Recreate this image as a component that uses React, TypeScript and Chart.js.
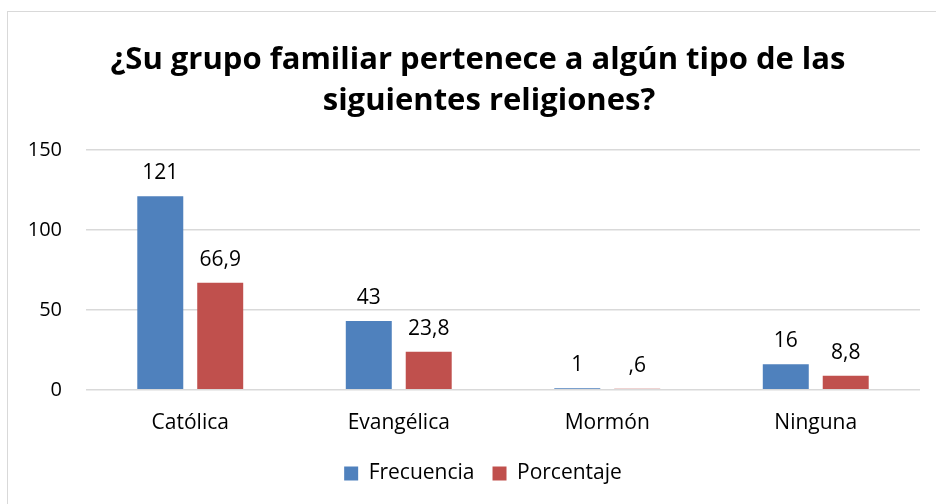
import React, { useEffect, useRef } from "react";
import { Chart, registerables } from "chart.js";

Chart.register(...registerables);

const categories = ["Católica", "Evangélica", "Mormón", "Ninguna"];
const frecuencia = [121, 43, 1, 16];
const porcentaje = [66.9, 23.8, 0.6, 8.8];
const frecuenciaLabels = ["121", "43", "1", "16"];
const porcentajeLabels = ["66,9", "23,8", ",6", "8,8"];
const titleLines = ["¿Su grupo familiar pertenece a algún tipo de las", "siguientes religiones?"];
const yTicks = [0, 50, 100, 150];

const FONT = "'Open Sans', sans-serif";

const dataLabelPlugin = {
  id: "dataLabels",
  afterDatasetsDraw(chart: any) {
    const ctx = chart.ctx;
    const all = [frecuenciaLabels, porcentajeLabels];
    ctx.save();
    ctx.font = `21px ${FONT}`;
    ctx.fillStyle = "#000";
    ctx.textAlign = "center";
    ctx.textBaseline = "alphabetic";
    chart.data.datasets.forEach((_: any, di: number) => {
      const meta = chart.getDatasetMeta(di);
      meta.data.forEach((bar: any, i: number) => {
        ctx.fillText(all[di][i], bar.x, bar.y - 17);
      });
    });
    ctx.restore();
  },
};

const titlePlugin = {
  id: "wideTitle",
  afterLayout(chart: any) {
    if (chart.legend) {
      chart.legend.left += 23;
      chart.legend.right += 23;
      chart.legend.top -= 4;
      chart.legend.bottom -= 4;
    }
  },
  afterDraw(chart: any) {
    const ctx = chart.ctx;
    ctx.save();
    ctx.font = `bold 31px ${FONT}`;
    ctx.fillStyle = "#000";
    ctx.textAlign = "center";
    ctx.textBaseline = "alphabetic";
    const centers = [478, 489];
    const baselines = [69, 110];
    titleLines.forEach((line, i) => ctx.fillText(line, centers[i], baselines[i]));
    ctx.restore();
  },
};

export default function App() {
  const ref = useRef<HTMLCanvasElement>(null);
  useEffect(() => {
    document.body.style.margin = "0";
    const chart = new Chart(ref.current!, {
      type: "bar",
      data: {
        labels: categories,
        datasets: [
          { label: "Frecuencia", data: frecuencia, backgroundColor: "#4F81BD" },
          { label: "Porcentaje", data: porcentaje, backgroundColor: "#C0504D" },
        ],
      },
      options: {
        animation: false,
        responsive: false,
        layout: { padding: { left: 0, right: 16, top: 150, bottom: 6 } },
        datasets: {
          bar: { categoryPercentage: 0.575, barPercentage: 0.767 },
        } as any,
        plugins: {
          title: { display: false },
          legend: {
            position: "bottom",
            labels: {
              color: "#000",
              font: { family: FONT, size: 21 },
              boxWidth: 14,
              boxHeight: 14,
              padding: 18,
            },
          },
          tooltip: { enabled: false },
        },
        scales: {
          x: {
            grid: { display: false },
            border: { display: false },
            ticks: { color: "#000", font: { family: FONT, size: 21 }, padding: 13 },
          },
          y: {
            min: 0,
            max: 150,
            afterBuildTicks: (axis: any) => {
              axis.ticks = yTicks.map((v) => ({ value: v }));
            },
            afterFit: (axis: any) => {
              axis.width = 86;
            },
            grid: { color: "#D9D9D9", lineWidth: 1.5, drawTicks: false },
            border: { display: false },
            ticks: { color: "#000", font: { family: FONT, size: 20 }, padding: 24 },
          },
        },
      },
      plugins: [dataLabelPlugin, titlePlugin],
    });
    return () => chart.destroy();
  }, []);
  return (
    <div style={{ position: "relative", width: 936, height: 504, overflow: "hidden", background: "#fff" }}>
      <div
        style={{
          position: "absolute",
          left: 7,
          top: 11,
          width: 960,
          height: 520,
          border: "1.5px solid #D9D9D9",
        }}
      />
      <canvas ref={ref} width={936} height={504} style={{ position: "absolute", left: 0, top: 0 }} />
    </div>
  );
}
